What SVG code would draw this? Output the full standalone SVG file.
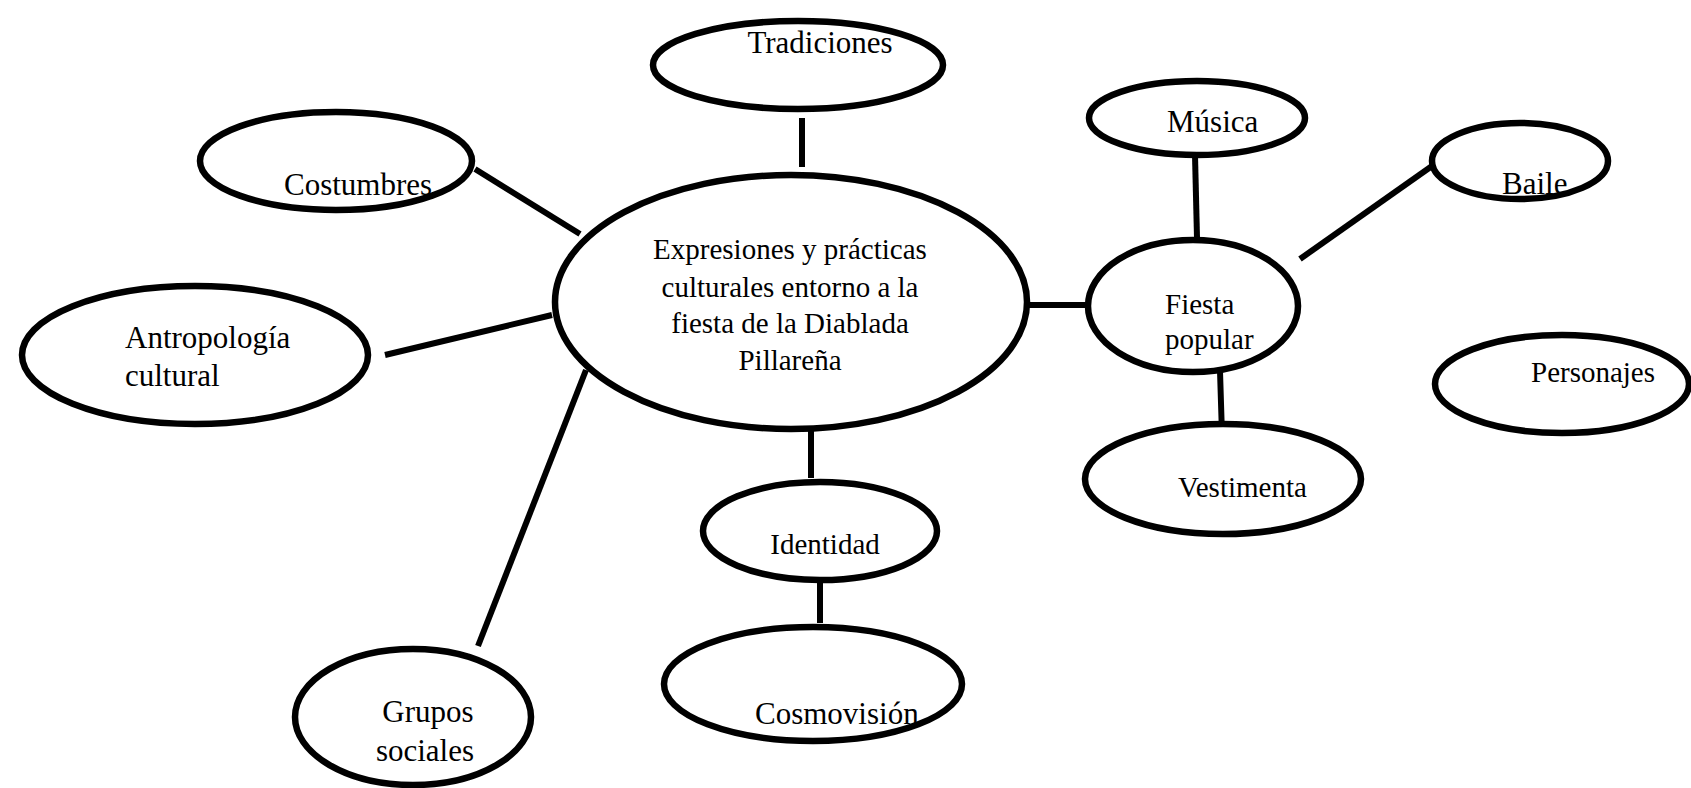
<svg xmlns="http://www.w3.org/2000/svg" width="1691" height="788" viewBox="0 0 1691 788">
<style>
.n ellipse{fill:#fff;stroke:#000;stroke-width:6.5}
.c line{stroke:#000;stroke-width:6}
text{font-family:"Liberation Serif","Times New Roman",serif;fill:#000}
.b{font-size:31px}
.s{font-size:29px}
.m{text-anchor:middle}
</style>
<rect width="1691" height="788" fill="#fff"/>
<g id="connectors" class="c">
<line x1="802" y1="118" x2="802" y2="167"/>
<line x1="475" y1="169" x2="580" y2="234"/>
<line x1="385" y1="355" x2="552" y2="315"/>
<line x1="478" y1="646" x2="586" y2="370"/>
<line x1="811" y1="429" x2="811" y2="478"/>
<line x1="820" y1="582" x2="820" y2="623"/>
<line x1="1028" y1="305" x2="1087" y2="305"/>
<line x1="1195" y1="155" x2="1197" y2="238"/>
<line x1="1300" y1="259" x2="1432" y2="166"/>
<line x1="1220" y1="371" x2="1222" y2="435"/>
</g>
<g id="tradiciones" class="n"><ellipse cx="798" cy="65" rx="145" ry="44"/><text class="b m" x="820" y="53">Tradiciones</text></g>
<g id="costumbres" class="n"><ellipse cx="336" cy="161" rx="136" ry="49"/><text class="b" x="284" y="195">Costumbres</text></g>
<g id="antropologia" class="n"><ellipse cx="195" cy="355" rx="173" ry="69"/><text class="b" x="125" y="348">Antropología</text><text class="b" x="125" y="386">cultural</text></g>
<g id="central" class="n"><ellipse cx="791" cy="302" rx="236" ry="127"/>
<text class="s m" x="790" y="259">Expresiones y prácticas</text>
<text class="s m" x="790" y="297">culturales entorno a la</text>
<text class="s m" x="790" y="333">fiesta de la Diablada</text>
<text class="s m" x="790" y="370">Pillareña</text></g>
<g id="identidad" class="n"><ellipse cx="820" cy="531" rx="117" ry="49"/><text class="s m" x="825" y="554">Identidad</text></g>
<g id="cosmovision" class="n"><ellipse cx="813" cy="684" rx="149" ry="57"/><text class="b" x="755" y="724">Cosmovisión</text></g>
<g id="grupos" class="n"><ellipse cx="413" cy="717" rx="118" ry="68"/><text class="b m" x="428" y="722">Grupos</text><text class="b m" x="425" y="761">sociales</text></g>
<g id="fiesta" class="n"><ellipse cx="1193" cy="306" rx="105" ry="66"/><text class="s" x="1165" y="314">Fiesta</text><text class="s" x="1165" y="349">popular</text></g>
<g id="musica" class="n"><ellipse cx="1197" cy="118" rx="108" ry="37"/><text class="b" x="1167" y="132">Música</text></g>
<g id="baile" class="n"><ellipse cx="1520" cy="161" rx="88" ry="38"/><text class="b" x="1502" y="194">Baile</text></g>
<g id="personajes" class="n"><ellipse cx="1562" cy="384" rx="127" ry="49"/><text class="s" x="1531" y="382">Personajes</text></g>
<g id="vestimenta" class="n"><ellipse cx="1223" cy="479" rx="138" ry="55"/><text class="s" x="1178" y="497">Vestimenta</text></g>
</svg>
